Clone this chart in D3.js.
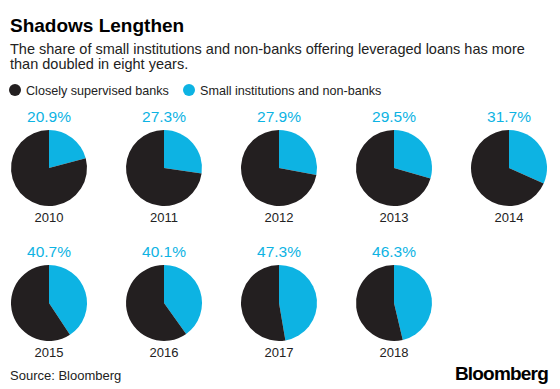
<!DOCTYPE html>
<html>
<head>
<meta charset="utf-8">
<script src="https://cdn.jsdelivr.net/npm/d3@7"></script>
<style>
  body { margin: 0; background: #fff; }
  svg text { font-family: "Liberation Sans", Arial, sans-serif; }
</style>
</head>
<body>
<div id="chart"></div>
<script>
var years = ['2010', '2011', '2012', '2013', '2014', '2015', '2016', '2017', '2018']
var smallShare = [20.9, 27.3, 27.9, 29.5, 31.7, 40.7, 40.1, 47.3, 46.3]
var seriesNames = ['Closely supervised banks', 'Small institutions and non-banks']

var dark = '#231f20'
var cyan = '#0db3e3'

var width = 560, height = 389
var svg = d3.select('#chart').append('svg')
    .attr('width', width)
    .attr('height', height)

svg.append('text')
    .attr('x', 10).attr('y', 32)
    .style('font-size', '19px').style('font-weight', 'bold')
    .attr('fill', '#000')
    .text('Shadows Lengthen')

var sub = ['The share of small institutions and non-banks offering leveraged loans has more',
           'than doubled in eight years.']
svg.selectAll('.sub').data(sub).enter().append('text')
    .attr('class', 'sub')
    .attr('x', 10).attr('y', function(d, i) { return 54 + i * 15 })
    .style('font-size', '14.5px').attr('fill', '#222')
    .text(function(d) { return d })

// legend
var legX = [15, 189]
var leg = svg.selectAll('.leg').data(seriesNames).enter().append('g')
    .attr('class', 'leg')
    .attr('transform', function(d, i) { return 'translate(' + legX[i] + ',90)' })
leg.append('circle').attr('r', 6).attr('fill', function(d, i) { return i ? cyan : dark })
leg.append('text').attr('x', 11).attr('y', 4.5)
    .style('font-size', '12.6px').attr('fill', '#222')
    .text(function(d) { return d })

// grid of pies
var col = d3.scalePoint().domain(d3.range(5)).range([49, 509])
var row = d3.scalePoint().domain([0, 1]).range([168, 303])
var r = 38

var pie = d3.pie().sort(null)
var arc = d3.arc().innerRadius(0).outerRadius(r)

var cells = svg.selectAll('.cell').data(years).enter().append('g')
    .attr('class', 'cell')
    .attr('transform', function(d, i) {
        return 'translate(' + col(i % 5) + ',' + row(Math.floor(i / 5)) + ')'
    })

cells.selectAll('path')
    .data(function(d, i) { return pie([smallShare[i], 100 - smallShare[i]]) })
    .enter().append('path')
    .attr('d', arc)
    .attr('fill', function(d, j) { return j === 0 ? cyan : dark })

cells.append('text')
    .attr('y', -46).attr('text-anchor', 'middle')
    .style('font-size', '15.5px').attr('fill', cyan)
    .text(function(d, i) { return smallShare[i].toFixed(1) + '%' })

cells.append('text')
    .attr('y', 54).attr('text-anchor', 'middle')
    .style('font-size', '13px').attr('fill', '#222')
    .text(function(d) { return d })

svg.append('text')
    .attr('x', 10).attr('y', 380)
    .style('font-size', '13px').attr('fill', '#222')
    .text('Source: Bloomberg')

svg.append('text')
    .attr('x', 548).attr('y', 380).attr('text-anchor', 'end')
    .style('font-size', '19px').style('font-weight', 'bold')
    .style('letter-spacing', '-0.8px')
    .attr('fill', '#000')
    .text('Bloomberg')
</script>
</body>
</html>
